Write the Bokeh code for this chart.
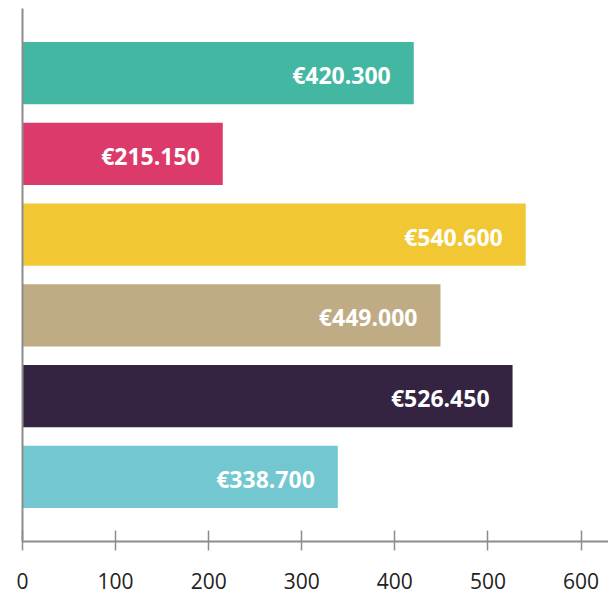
from bokeh.plotting import figure
from bokeh.models import ColumnDataSource, FactorRange, Range1d, FixedTicker
from bokeh.core.properties import value
from bokeh.embed import file_html
from bokeh.resources import INLINE

# Data (top to bottom)
labels = ["€420.300", "€215.150", "€540.600", "€449.000", "€526.450", "€338.700"]
values = [420.3, 215.15, 540.6, 449.0, 526.45, 338.7]
colors = ["#44B7A3", "#DB3A6A", "#F1C834", "#BFAC85", "#342442", "#73C7D1"]
x_ticks = [0, 100, 200, 300, 400, 500, 600]

source = ColumnDataSource(dict(label=labels, value=values, color=colors))

p = figure(
    width=608, height=595,
    y_range=FactorRange(factors=labels[::-1], range_padding=0.3,
                        range_padding_units="absolute"),
    x_range=Range1d(0, 629.5),
    output_backend="svg", toolbar_location=None,
    min_border_left=22, min_border_right=0, min_border_top=8,
    min_border_bottom=54,
)

p.hbar(y="label", right="value", left=0, height=0.77, color="color",
       line_color=None, source=source)

p.text(x="value", y="label", text="label", source=source,
       text_align="right", text_baseline="middle", x_offset=-23, y_offset=2,
       text_color="white", text_font=value("Open Sans"),
       text_font_style="bold", text_font_size="23px")

axis_color = "#8c8c8c"
p.xaxis.ticker = FixedTicker(ticks=x_ticks)
p.xaxis.axis_line_color = axis_color
p.xaxis.axis_line_width = 2
p.xaxis.major_tick_line_color = axis_color
p.xaxis.major_tick_line_width = 1.5
p.xaxis.major_tick_in = 11
p.xaxis.major_tick_out = 9
p.xaxis.minor_tick_line_color = None
p.xaxis.major_label_text_font = "Open Sans"
p.xaxis.major_label_text_font_size = "21px"
p.xaxis.major_label_text_color = "#222222"
p.xaxis.major_label_standoff = 22

p.yaxis.ticker = FixedTicker(ticks=[])
p.yaxis.axis_line_color = axis_color
p.yaxis.axis_line_width = 2
p.yaxis.major_tick_line_color = None
p.yaxis.minor_tick_line_color = None
p.yaxis.major_label_text_font_size = "0px"
p.yaxis.major_label_standoff = 0

p.grid.visible = False
p.outline_line_color = None
p.background_fill_color = "white"
p.border_fill_color = "white"

open("out.html", "w").write(file_html(p, INLINE))
